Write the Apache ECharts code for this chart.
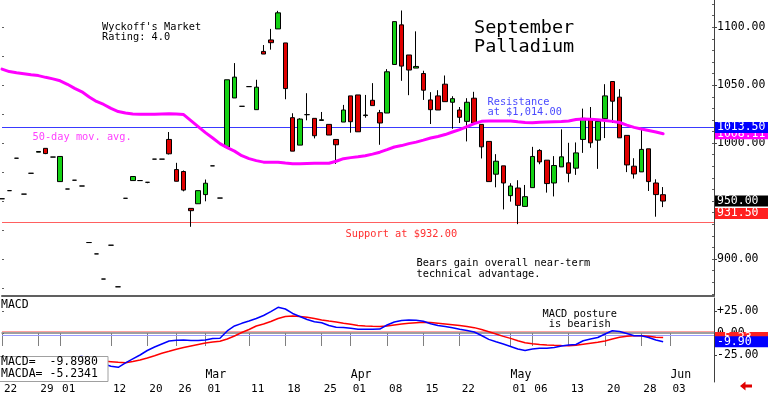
<!DOCTYPE html>
<html><head><meta charset="utf-8">
<script src="https://cdn.jsdelivr.net/npm/echarts/dist/echarts.min.js"></script>
<style>html,body{margin:0;padding:0;background:#fff}#c{width:768px;height:395px}</style>
</head><body><div id="c"></div>
<script>
// ---- categories (trading days, MM-DD) ----
const dates = ['01-22','01-23','01-24','01-25','01-26','01-29','01-30','01-31',
'02-01','02-02','02-05','02-06','02-07','02-08','02-09','02-12','02-13','02-14','02-15','02-16','02-20','02-21','02-22','02-23','02-26','02-27','02-28','02-29',
'03-01','03-04','03-05','03-06','03-07','03-08','03-11','03-12','03-13','03-14','03-15','03-18','03-19','03-20','03-21','03-22','03-25','03-26','03-27','03-28',
'04-01','04-02','04-03','04-04','04-05','04-08','04-09','04-10','04-11','04-12','04-15','04-16','04-17','04-18','04-19','04-22','04-23','04-24','04-25','04-26','04-29','04-30',
'05-01','05-02','05-03','05-06','05-07','05-08','05-09','05-10','05-13','05-14','05-15','05-16','05-17','05-20','05-21','05-22','05-23','05-24','05-28','05-29','05-30','05-31',
'06-03','06-04','06-05','06-06','06-07','06-10','06-11'];
const dayLabels = ['01-22','01-29','02-01','02-12','02-20','02-26','03-01','03-11','03-18','03-25','04-01','04-08','04-15','04-22','05-01','05-06','05-13','05-20','05-28','06-03'];
const monthDays = ['02-01','03-01','04-01','05-01','06-03'];
const monthNames = ['Feb','Mar','Apr','May','Jun'];

// ---- price series ----
const opens  = [952,959,987,956,974,992.2,995.5,988,966.8,960.4,968,963,914.2,904.4,882.7,911.9,876,952.4,967.7,967.7,966.2,986.2,986.2,1003.2,977.2,975.5,943.7,947.7,955.6,980.4,952.6,996.6,1039,1031.8,1048.8,1028.9,1079.2,1089.1,1098.6,1086.5,1022,998.3,1024.6,1021.4,1019.6,1016.2,1003.2,1018.2,1040.8,1041.6,1023.8,1037,1026.3,1026,1067.9,1102.1,1076.1,1064.8,1060.1,1037.3,1040.8,1050.9,1035.3,1028.6,1018.8,1038.8,1016.2,1001.5,973.2,980.4,954.7,961.3,945.4,961.6,993.7,985.3,965.6,979.5,983,978.4,1003.2,1021.1,1002.6,1021.1,1053.2,1039.7,1006.7,980.1,975.2,995.1,965.6,955.5];
const closes = [952,959,987,956,974,992.8,991,988,988.5,960.4,968,963,914.2,904.4,882.7,911.9,876,952.4,971.2,967.7,966.2,986.2,986.2,990.8,967.1,959.5,941.7,959,965.4,980.4,952.6,1054.7,1057,1031.8,1048.8,1048.3,1076.9,1086.7,1112.5,1047.1,993.1,1020.8,1024.6,1006.4,1020.2,1007,998.6,1028.6,1018.5,1009.8,1024.3,1032.4,1017.4,1061.6,1104.9,1066.5,1063.1,1066.2,1045.7,1028.9,1028.6,1035.8,1038.4,1022.3,1035.3,1017.4,996.8,966.8,984.4,965.6,963,946.3,953.8,988.5,983.8,965.1,980.7,988.2,974,991.6,1021.4,1000.3,1018.8,1040.8,1036.2,1004.6,981.2,973.4,994.6,966.8,955.6,950];
const lows   = [952,959,987,956,974,992.2,990.5,988,966.8,960.4,968,963,914.2,904.4,882.7,911.9,876,952.4,967.7,967.7,965.4,986.2,986.2,990.2,967,958.4,927.8,947.7,949.8,980.4,952.6,996.6,1039,1031.8,1048.8,1028.9,1076.9,1080.7,1098.6,1037.9,993.1,998.3,1019.7,1004.1,1019.6,1007,982.1,1018.2,1009,1009.8,1022,1032.4,998.6,1026,1067.9,1053.8,1041.4,1064.8,1037.3,1016.5,1028.6,1035.8,1012.4,1017.4,1001.5,1017.4,986.8,966.8,961.9,942.8,949.5,930.1,945.4,961.6,981.8,957.3,954,979.5,966.2,972.6,991.6,996,977.8,1004.4,1017.4,1004.6,975,969.4,975.2,958.7,936.5,944.8];
const highs  = [952,959,987,956,974,992.8,995.5,988,988.5,960.4,968,963,914.2,904.4,882.7,911.9,876,952.4,971.2,967.7,966.2,986.2,986.2,1009.6,983,976.4,943.7,959,968.6,980.4,952.6,1054.7,1069.1,1031.8,1048.8,1054.7,1084.7,1098.6,1114.2,1086.5,1025.8,1021.5,1043.1,1021.4,1026.9,1016.2,1003.2,1033,1040.8,1041.6,1041.6,1051.8,1028.7,1063.9,1104.9,1114.5,1076.1,1096.5,1062.5,1044,1045.7,1058.4,1040.5,1031.2,1038.8,1044.3,1016.2,1001.5,990.5,980.4,965.4,968,963.9,996.8,994.8,985.3,988.8,1011.9,1000.3,1000.6,1029.8,1031.2,1018.8,1050.9,1053.2,1046.6,1006.7,987,1011.9,995.1,968.8,962.1];
const ma50 = [1063.9,1061.8,1060.7,1059.9,1059,1058.3,1056.8,1055.5,1053.8,1050.8,1047.3,1044.3,1039.9,1036,1033.4,1030,1027.3,1026,1025.2,1024.9,1024.9,1025,1025.2,1025.4,1025.2,1024.7,1019.5,1014.3,1009.1,1004.4,999.6,996.1,993.1,989.2,986.6,984.9,983.6,983.6,983.6,982.9,982.3,982.3,982.5,982.7,982.7,982.7,984.4,986.6,987.5,988.2,989.2,990.5,992.2,994.4,996.7,997.9,999.6,1000.9,1002.6,1004.4,1005.8,1007.4,1009.6,1011.7,1014.3,1016.9,1018.8,1019.1,1019.1,1019.1,1019.1,1018.4,1017.8,1017.6,1018,1018.2,1018.4,1018.6,1019.1,1020.4,1020.8,1020.6,1020.1,1019.5,1018.8,1017.8,1015.6,1013.6,1012.2,1010.9,1009.6,1008.1];

// ---- MACD ----
const macd = [-29.5,-30.2,-28.9,-29.6,-29.1,-28.4,-27.8,-28.1,-27.2,-27.9,-27.4,-26.6,-28.4,-31.8,-35.2,-37.8,-39,-34,-29.5,-25,-19.9,-15.9,-12.5,-9.1,-8.3,-8,-8.6,-8.5,-8,-6.2,-6,2.3,8,11,13.6,16.5,19.9,24.4,29.2,27.3,22.2,18.8,15.3,12.8,11.7,8.5,6.5,6.3,5.3,4.3,4.2,4.3,4.5,9.1,12.5,14.2,14.8,14.4,13.3,10.6,8.5,7.4,5.9,4.3,2.8,1.1,-2.8,-7.2,-9.9,-12.5,-15.3,-18.2,-19.9,-18.2,-17.4,-17.4,-16.5,-14.8,-13.6,-13.1,-8.8,-6.8,-5.1,-1.1,2.6,1.7,-0.6,-3.1,-3.1,-5.1,-8,-9.898];
const macdAvg = [-27.2,-27.5,-27.9,-28.1,-28.3,-28.4,-28.4,-28.5,-28.3,-28.4,-28.6,-28.9,-29.8,-30.9,-31.9,-32.6,-33.3,-33.8,-32.4,-30.7,-28.4,-25.8,-23.1,-20.8,-18.4,-16.5,-14.8,-13.1,-11.4,-10.2,-9.4,-6.8,-3.4,0.6,4,8,10.2,13.1,16.5,18.8,19.3,18.8,17.8,16.5,14.8,13.6,12.5,11.1,9.9,8.5,8,7.6,7.3,8,9.1,10.2,11.1,11.7,12.2,11.9,11.1,10.3,9.5,8.5,7.4,6.1,4,1.5,-1.1,-3.8,-6.1,-8.8,-11.1,-12.3,-13,-13.6,-14,-14.3,-14.4,-13.9,-12.8,-11.7,-10.6,-9,-6.8,-4.9,-3.8,-3.1,-3,-3.6,-4.9,-5.2341];

// ---- ticks / levels ----
const priceTicks = [900,950,1000,1050,1100];
const priceMinorTicks = [870,880,890,900,910,920,930,940,950,960,970,980,990,1000,1010,1020,1030,1040,1050,1060,1070,1080,1090,1100,1110,1120];
const priceLeftTicks = [875,900,925,950,975,1000,1025,1050,1075,1100];
const macdTicks = [25,0,-25];
const macdLeftTicks = [25,0,-25,-50];
const resistance = 1013.5, support = 931.5, lastClose = 950, lastMA = 1008.11;
const macdZeroLine = 1.7, macdRefLine = -2.8;

const MONO = '"DejaVu Sans Mono", monospace';
const chart = echarts.init(document.getElementById('c'), null, {renderer:'canvas'});
const candles = dates.map((d,i)=> i<opens.length ? [opens[i],closes[i],lows[i],highs[i]] : '-');
const NOLINE = {width:0, opacity:1, color:'#ffffff', type:'solid'};

function badge(bg, text, extra){
  return Object.assign({show:true, position:'end', distance:1, formatter:text, color:'#fff',
    backgroundColor:bg, fontFamily:MONO, fontSize:11.5, lineHeight:11, padding:[0,2,0,2], width:49}, extra||{});
}
const PMIN=868.06, PMAX=1123.56, MMIN=-55.7, MMAX=39.8;

chart.setOption({
  animation:false,
  grid:[
    {left:2, right:54, top:0, height:296, containLabel:false, outerBoundsMode:'none'},
    {left:2, right:54, top:298, height:84, containLabel:false, outerBoundsMode:'none'}
  ],
  xAxis:[
    {type:'category', gridIndex:0, data:dates, boundaryGap:false,
     axisLine:{show:true, lineStyle:{color:'#606060', width:2}}, axisTick:{show:false}, axisLabel:{show:false}, splitLine:{show:false}},
    {type:'category', gridIndex:1, data:dates, boundaryGap:false, position:'bottom',
     axisLine:{show:true, lineStyle:{color:'#808080', width:1.5}},
     axisTick:{show:true, length:13, interval:(i,v)=>dayLabels.indexOf(v)>=0, lineStyle:{color:'#808080'}},
     axisLabel:{interval:(i,v)=>dayLabels.indexOf(v)>=0, formatter:v=>v.slice(3), align:'left', margin:2, padding:[0,0,0,2],
       fontFamily:MONO, fontSize:11, color:'#000'}, splitLine:{show:false}},
    {type:'category', gridIndex:1, data:dates, boundaryGap:false, position:'bottom',
     axisLine:{show:false}, axisTick:{show:false}, splitLine:{show:false},
     axisLabel:{inside:true, interval:(i,v)=>monthDays.indexOf(v)>=0, formatter:v=>monthNames[monthDays.indexOf(v)], align:'left', margin:1,
       fontFamily:MONO, fontSize:11.5, color:'#000'}}
  ],
  yAxis:[
    {type:'value', gridIndex:0, position:'right', min:PMIN, max:PMAX, splitLine:{show:false},
     axisLine:{show:true, lineStyle:{color:'#404040'}},
     axisTick:{show:true, customValues:priceTicks, length:3, lineStyle:{color:'#404040'}},
     axisLabel:{customValues:priceTicks, formatter:v=>v.toFixed(2), margin:3, fontFamily:MONO, fontSize:11.5, color:'#000'}},
    {type:'value', gridIndex:0, position:'left', min:PMIN, max:PMAX, splitLine:{show:false}, axisLine:{show:false},
     axisTick:{show:true, inside:true, length:2, customValues:priceLeftTicks, lineStyle:{color:'#606060'}}, axisLabel:{show:false}},
    {type:'value', gridIndex:0, position:'right', min:PMIN, max:PMAX, splitLine:{show:false}, axisLine:{show:false},
     axisTick:{show:true, inside:true, length:2, customValues:priceMinorTicks, lineStyle:{color:'#606060'}}, axisLabel:{show:false}},
    {type:'value', gridIndex:1, position:'right', min:MMIN, max:MMAX, splitLine:{show:false},
     axisLine:{show:true, lineStyle:{color:'#404040'}},
     axisTick:{show:true, customValues:macdTicks, length:3, lineStyle:{color:'#404040'}},
     axisLabel:{customValues:macdTicks, formatter:v=>(v>0?'+':'')+v.toFixed(2), margin:3, fontFamily:MONO, fontSize:11.5, color:'#000'}},
    {type:'value', gridIndex:1, position:'left', min:MMIN, max:MMAX, splitLine:{show:false}, axisLine:{show:false},
     axisTick:{show:true, inside:true, length:2, customValues:macdLeftTicks, lineStyle:{color:'#606060'}}, axisLabel:{show:false}}
  ],
  series:[
    {type:'candlestick', xAxisIndex:0, yAxisIndex:0, data:candles, barWidth:5, clip:false, z:3,
     itemStyle:{color:'#14d214', color0:'#e00000', borderColor:'#000', borderColor0:'#000', borderWidth:1},
     markLine:{symbol:['none','none'], silent:true, animation:false, z:1,
       data:[
         {yAxis:resistance, lineStyle:{color:'#3a3aff', width:1, type:'solid', opacity:1}, label:{show:false}},
         {yAxis:support, lineStyle:{color:'#ff6060', width:1, type:'solid', opacity:1}, label:{show:false}}
       ]}},
    {type:'line', xAxisIndex:0, yAxisIndex:0, data:ma50, showSymbol:false, symbol:'none', z:4,
     lineStyle:{color:'#ff00ff', width:3, cap:'round'},
     markLine:{symbol:['none','none'], silent:true, animation:false, z:5,
       data:[
         {yAxis:lastMA, lineStyle:NOLINE, label:badge('#ff00ff', lastMA.toFixed(2))},
         {yAxis:resistance, lineStyle:NOLINE, label:badge('#0000ff', resistance.toFixed(2))},
         {yAxis:lastClose, lineStyle:NOLINE, label:badge('#000000', lastClose.toFixed(2))},
         {yAxis:support, lineStyle:NOLINE, label:badge('#ff2020', support.toFixed(2), {offset:[0,-9]})}
       ]}},
    {type:'line', xAxisIndex:1, yAxisIndex:3, data:macdAvg, showSymbol:false, symbol:'none', z:3,
     lineStyle:{color:'#ff0000', width:1.5},
     markLine:{symbol:['none','none'], silent:true, animation:false, z:1,
       data:[
         {yAxis:macdZeroLine, lineStyle:{color:'#ffa0a0', width:1, type:'solid'}, label:{show:false}},
         {yAxis:macdRefLine, lineStyle:{color:'#9a9aff', width:1, type:'solid'}, label:{show:false}}
       ]}},
    {type:'line', xAxisIndex:1, yAxisIndex:3, data:macd, showSymbol:false, symbol:'none', z:4,
     lineStyle:{color:'#0000ff', width:1.5},
     markLine:{symbol:['none','none'], silent:true, animation:false, z:5,
       data:[
         {yAxis:macdAvg[macdAvg.length-1], lineStyle:NOLINE, label:badge('#ff2020', macdAvg[macdAvg.length-1].toFixed(2))},
         {yAxis:macd[macd.length-1], lineStyle:NOLINE, label:badge('#0000ff', macd[macd.length-1].toFixed(2))}
       ]}}
  ],
  graphic:[
    {type:'text', x:102, y:27, z:50, style:{text:"Wyckoff's Market", font:'10.3px '+MONO, fill:'#000', verticalAlign:'middle'}},
    {type:'text', x:102, y:37, z:50, style:{text:"Rating: 4.0", font:'10.3px '+MONO, fill:'#000', verticalAlign:'middle'}},
    {type:'text', x:474, y:28, z:50, style:{text:"September", font:'18.5px '+MONO, fill:'#000', verticalAlign:'middle'}},
    {type:'text', x:474, y:47.5, z:50, style:{text:"Palladium", font:'18.5px '+MONO, fill:'#000', verticalAlign:'middle'}},
    {type:'text', x:32.5, y:137, z:50, style:{text:"50-day mov. avg.", font:'10.3px '+MONO, fill:'#ff40ff', verticalAlign:'middle'}},
    {type:'text', x:487.5, y:102, z:50, style:{text:"Resistance", font:'10.3px '+MONO, fill:'#4a4aff', verticalAlign:'middle'}},
    {type:'text', x:487.5, y:112.5, z:50, style:{text:"at $1,014.00", font:'10.3px '+MONO, fill:'#4a4aff', verticalAlign:'middle'}},
    {type:'text', x:345.5, y:234, z:50, style:{text:"Support at $932.00", font:'10.3px '+MONO, fill:'#ff3030', verticalAlign:'middle'}},
    {type:'text', x:416.5, y:263.5, z:50, style:{text:"Bears gain overall near-term", font:'10.3px '+MONO, fill:'#000', verticalAlign:'middle'}},
    {type:'text', x:416.5, y:274, z:50, style:{text:"technical advantage.", font:'10.3px '+MONO, fill:'#000', verticalAlign:'middle'}},
    {type:'text', x:542.5, y:314.5, z:50, style:{text:"MACD posture", font:'10.3px '+MONO, fill:'#000', verticalAlign:'middle'}},
    {type:'text', x:542.5, y:324.5, z:50, style:{text:" is bearish", font:'10.3px '+MONO, fill:'#000', verticalAlign:'middle'}},
    {type:'text', x:1, y:305, z:50, style:{text:"MACD", font:'11.5px '+MONO, fill:'#000', verticalAlign:'middle'}},
    {type:'rect', z:100, shape:{x:-1, y:356.5, width:109, height:25}, style:{fill:'#fff', stroke:'#a0a0a0', lineWidth:1}},
    {type:'text', x:1, y:362, z:101, style:{text:"MACD=  -9.8980", font:'11.5px '+MONO, fill:'#000', verticalAlign:'middle'}},
    {type:'text', x:1, y:374.5, z:101, style:{text:"MACDA= -5.2341", font:'11.5px '+MONO, fill:'#000', verticalAlign:'middle'}},
    {type:'polygon', z:50, shape:{points:[[740,386],[745.5,381.5],[745.5,384.5],[752,384.5],[752,387.5],[745.5,387.5],[745.5,390.5]]}, style:{fill:'#e00000'}}
  ]
});
</script>
</body></html>
